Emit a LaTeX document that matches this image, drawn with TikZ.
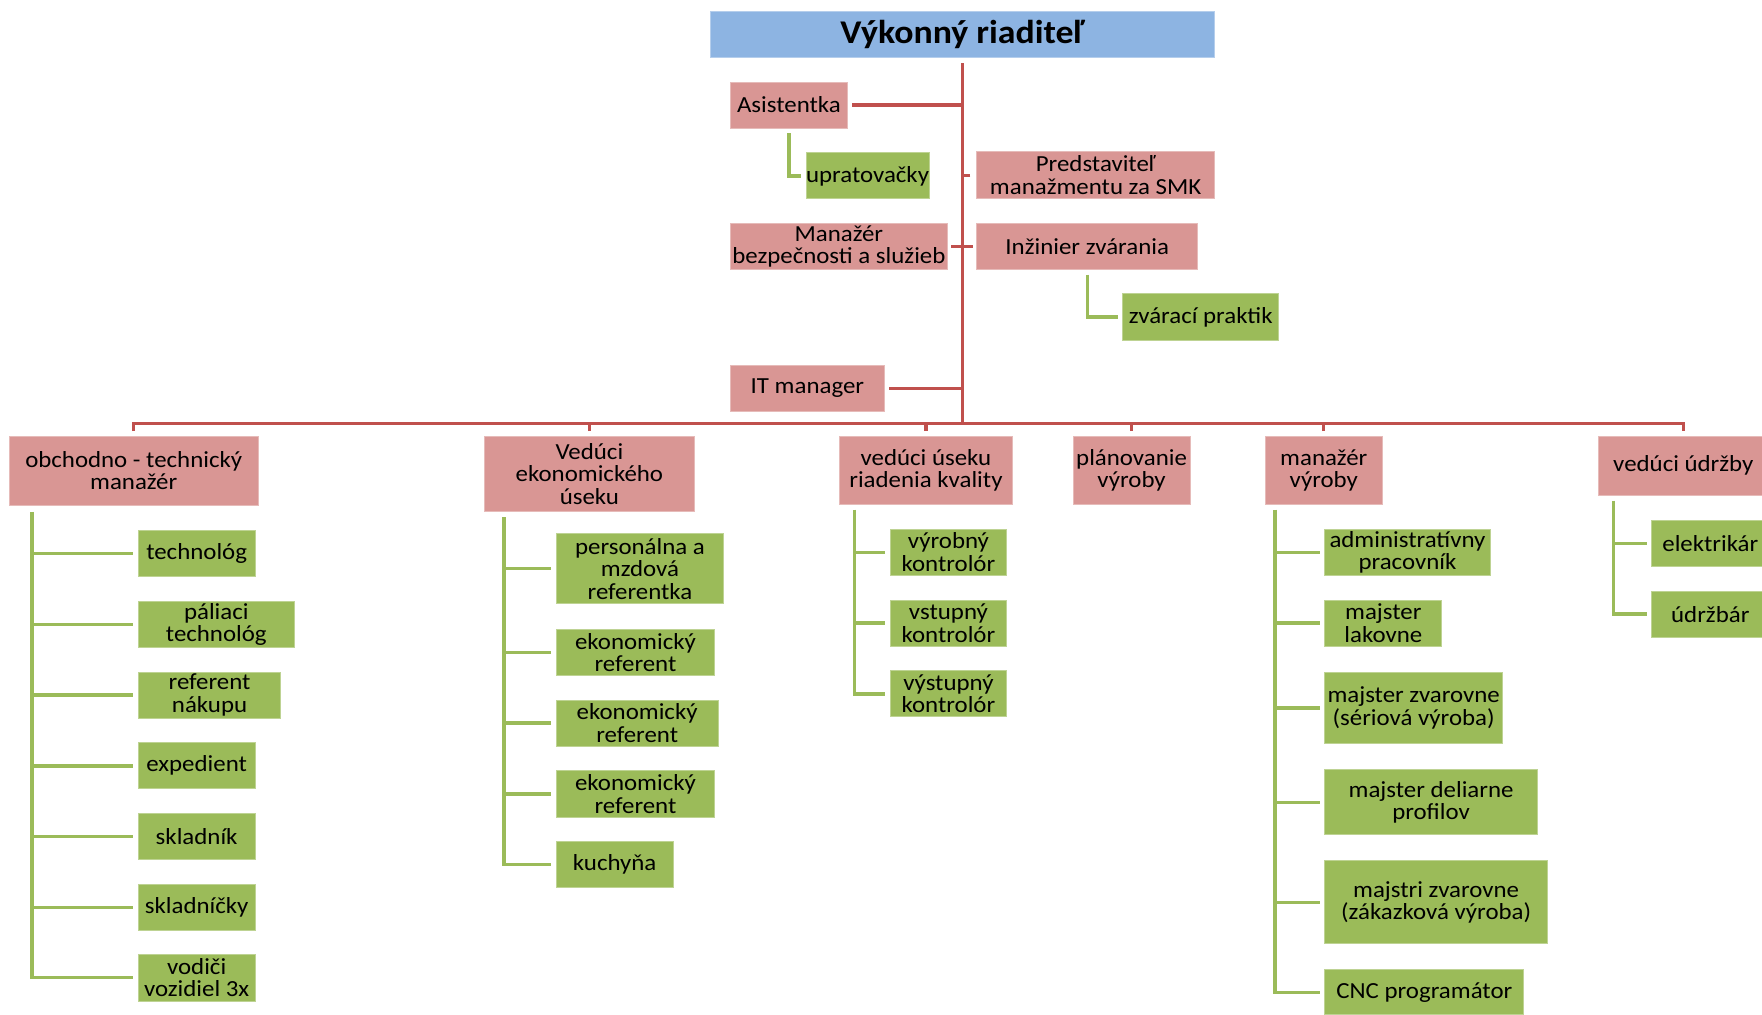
\documentclass[tikz,border=0pt]{standalone}
\usepackage{fontspec}
\setmainfont{Carlito}[FakeStretch=1.08]
\usetikzlibrary{calc}
\definecolor{pinkc}{HTML}{D99694}
\definecolor{greenc}{HTML}{9BBB59}
\definecolor{bluec}{HTML}{8DB4E2}
\definecolor{redc}{HTML}{C0504D}
\newcommand\nf{\fontsize{20.5}{20}\selectfont}
\newcommand\tf{\fontsize{29.5}{30}\selectfont\bfseries}
\tikzset{
  pbox/.style={fill=pinkc, draw=pinkc!65!white, line width=0.8pt, inner sep=0pt, align=center, font=\nf, text=black},
  gbox/.style={fill=greenc, draw=greenc!65!white, line width=0.8pt, inner sep=0pt, align=center, font=\nf, text=black},
  tbox/.style={fill=bluec, draw=bluec!65!white, line width=0.8pt, inner sep=0pt, align=center, font=\tf, text=black},
  rl/.style={draw=redc, line width=3pt},
  gl/.style={draw=greenc, line width=3pt},
}
\newcommand\bx[7]{\node[#6, minimum width={(#4-#2)*1pt}, minimum height={(#5-#3)*1pt}] (#1) at ({(#2+#4)/2},{(#3+#5)/2}) {#7};}
\begin{document}
\begin{tikzpicture}[x=1pt,y=-1pt]
\useasboundingbox (0,0) rectangle (1568,902.4);
% top
\bx{title}{632}{10}{1081}{51}{tbox}{Výkonný riaditeľ}
\bx{asis}{650}{73}{754}{114}{pbox}{Asistentka}
\bx{upr}{720}{136}{824}{177}{gbox}{upratovačky}
\bx{pred}{869}{135}{1081}{177}{pbox}{Predstaviteľ\\manažmentu za SMK}
\bx{mbs}{650}{199}{843}{240}{pbox}{Manažér\\bezpečnosti a služieb}
\bx{inz}{869}{199}{1066}{240}{pbox}{Inžinier zvárania}
\bx{zp}{999}{261}{1138}{303}{gbox}{zvárací praktik}
\bx{it}{650}{325}{787}{366}{pbox}{IT manager}
% level 2
\bx{ot}{8}{388}{230}{450}{pbox}{obchodno - technický\\manažér}
\bx{ve}{431}{388}{618}{455}{pbox}{Vedúci\\ekonomického\\úseku}
\bx{kv}{747}{388}{901}{449}{pbox}{vedúci úseku\\riadenia kvality}
\bx{pl}{955}{388}{1059}{449}{pbox}{plánovanie\\výroby}
\bx{mv}{1126}{388}{1230}{449}{pbox}{manažér\\výroby}
\bx{udr}{1422}{388}{1574}{441}{pbox}{vedúci údržby}
% obchodno children
\bx{o1}{123}{472}{227}{513}{gbox}{technológ}
\bx{o2}{123}{535}{262}{576}{gbox}{páliaci\\technológ}
\bx{o3}{123}{598}{250}{639}{gbox}{referent\\nákupu}
\bx{o4}{123}{661}{227}{702}{gbox}{expedient}
\bx{o5}{123}{724}{227}{765}{gbox}{skladník}
\bx{o6}{123}{787}{227}{828}{gbox}{skladníčky}
\bx{o7}{123}{849}{227}{891}{gbox}{vodiči\\vozidiel 3x}
% ekonomicky children
\bx{e1}{495}{475}{644}{537}{gbox}{personálna a\\mzdová\\referentka}
\bx{e2}{495}{560}{636}{601}{gbox}{ekonomický\\referent}
\bx{e3}{495}{623}{639}{664}{gbox}{ekonomický\\referent}
\bx{e4}{495}{686}{636}{727}{gbox}{ekonomický\\referent}
\bx{e5}{495}{749}{599}{790}{gbox}{kuchyňa}
% kvalita children
\bx{k1}{792}{471}{896}{512}{gbox}{výrobný\\kontrolór}
\bx{k2}{792}{534}{896}{575}{gbox}{vstupný\\kontrolór}
\bx{k3}{792}{597}{896}{638}{gbox}{výstupný\\kontrolór}
% manazer vyroby children
\bx{m1}{1179}{471}{1326}{512}{gbox}{administratívny\\pracovník}
\bx{m2}{1179}{534}{1283}{575}{gbox}{majster\\lakovne}
\bx{m3}{1179}{598}{1337}{662}{gbox}{majster zvarovne\\(sériová výroba)}
\bx{m4}{1179}{685}{1368}{743}{gbox}{majster deliarne\\profilov}
\bx{m5}{1179}{766}{1377}{840}{gbox}{majstri zvarovne\\(zákazková výroba)}
\bx{m6}{1179}{863}{1356}{903}{gbox}{CNC programátor}
% udrzba children
\bx{u1}{1470}{463}{1574}{504}{gbox}{elektrikár}
\bx{u2}{1470}{526}{1574}{567}{gbox}{údržbár}
% red connectors
\coordinate (bus) at (856,377);
\draw[rl] ([yshift=-5pt]title.south) -- (title.south |- bus);
\draw[rl] ([yshift=4pt]ot.north) |- (bus) -| ([yshift=4pt]udr.north);
\foreach \n in {ve,kv,pl,mv} \draw[rl] ([yshift=4pt]\n.north) -- (\n.north |- bus);
\draw[rl] ([xshift=4pt]asis.east) -- (asis.east -| title.south);
\draw[rl] ([xshift=-5pt]pred.west) -- (pred.west -| title.south);
\draw[rl] ([xshift=3pt]mbs.east) -- ([xshift=-3pt]inz.west);
\draw[rl] ([xshift=4pt]it.east) -- (it.east -| title.south);
% green connectors
\draw[gl] ([yshift=-4pt]asis.south) |- ([xshift=-4pt]upr.west);
\draw[gl] ([yshift=-4pt]inz.south) |- ([xshift=-4pt]zp.west);
\coordinate (otv) at ([xshift=21pt,yshift=-5pt]ot.south west);
\draw[gl] (otv) |- ([xshift=-4pt]o7.west);
\foreach \c in {o1,o2,o3,o4,o5,o6} \draw[gl] (otv |- \c.west) -- ([xshift=-4pt]\c.west);
\coordinate (vev) at ([xshift=18pt,yshift=-5pt]ve.south west);
\draw[gl] (vev) |- ([xshift=-4pt]e5.west);
\foreach \c in {e1,e2,e3,e4} \draw[gl] (vev |- \c.west) -- ([xshift=-4pt]\c.west);
\coordinate (kvv) at ([xshift=14pt,yshift=-4pt]kv.south west);
\draw[gl] (kvv) |- ([xshift=-4pt]k3.west);
\foreach \c in {k1,k2} \draw[gl] (kvv |- \c.west) -- ([xshift=-4pt]\c.west);
\coordinate (mvv) at ([xshift=9pt,yshift=-4pt]mv.south west);
\draw[gl] (mvv) |- ([xshift=-4pt]m6.west);
\foreach \c in {m1,m2,m3,m4,m5} \draw[gl] (mvv |- \c.west) -- ([xshift=-4pt]\c.west);
\coordinate (udv) at ([xshift=14pt,yshift=-4pt]udr.south west);
\draw[gl] (udv) |- ([xshift=-4pt]u2.west);
\draw[gl] (udv |- u1.west) -- ([xshift=-4pt]u1.west);
\end{tikzpicture}
\end{document}
